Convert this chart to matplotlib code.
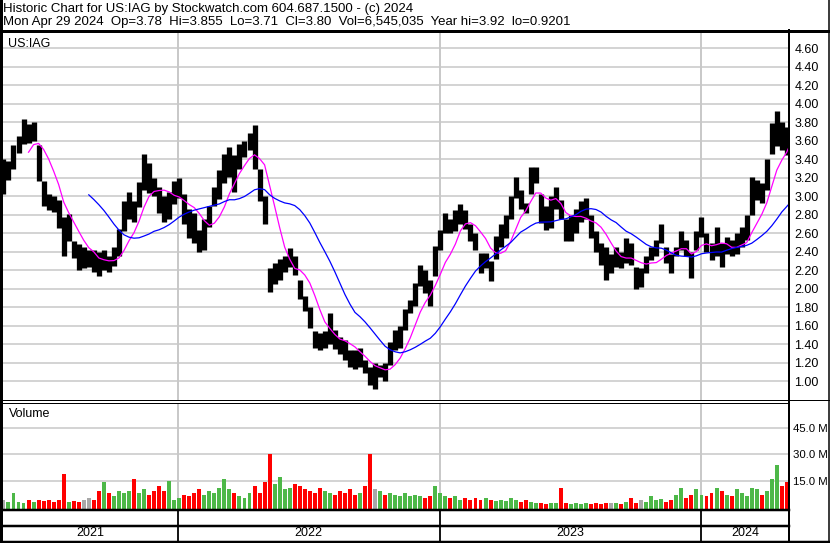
# Historic chart for US:IAG (Stockwatch style), weekly bars
import numpy as np
import pandas as pd
import matplotlib
matplotlib.use('Agg')
import matplotlib.pyplot as plt
from matplotlib.lines import Line2D

plt.rcParams['font.family'] = ['Liberation Sans', 'DejaVu Sans']

# Weekly high / low (US$), one value per week from May 2021 to Apr 2024
high = [3.40, 3.38, 3.55, 3.65, 3.84, 3.78, 3.80, 3.55, 3.17, 3.03,
        3.00, 2.96, 2.78, 2.81, 2.52, 2.48, 2.45, 2.42, 2.42, 2.40,
        2.42, 2.36, 2.45, 2.65, 2.95, 3.05, 2.95, 3.15, 3.46, 3.36,
        3.20, 3.10, 3.00, 3.05, 3.17, 3.20, 3.03, 2.86, 2.82, 2.64,
        2.75, 2.90, 3.10, 3.28, 3.46, 3.53, 3.45, 3.57, 3.60, 3.68,
        3.77, 3.30, 3.00, 2.22, 2.28, 2.32, 2.35, 2.44, 2.35, 2.10,
        1.92, 1.80, 1.54, 1.52, 1.54, 1.74, 1.55, 1.48, 1.45, 1.34,
        1.34, 1.36, 1.23, 1.15, 1.20, 1.18, 1.20, 1.42, 1.56, 1.60,
        1.78, 1.88, 2.06, 2.26, 2.20, 2.10, 2.46, 2.64, 2.82, 2.75,
        2.85, 2.92, 2.85, 2.70, 2.60, 2.39, 2.39, 2.30, 2.57, 2.70,
        2.80, 3.00, 3.21, 3.07, 2.93, 3.32, 3.32, 3.03, 2.90, 3.00,
        3.10, 2.96, 2.75, 2.80, 2.86, 2.95, 2.98, 2.80, 2.62, 2.50,
        2.45, 2.38, 2.45, 2.40, 2.55, 2.50, 2.24, 2.22, 2.35, 2.45,
        2.53, 2.70, 2.45, 2.38, 2.45, 2.63, 2.53, 2.40, 2.62, 2.78,
        2.60, 2.50, 2.67, 2.49, 2.56, 2.53, 2.60, 2.67, 2.80, 3.21,
        3.18, 3.14, 3.40, 3.79, 3.92, 3.80, 3.75, 3.855]
low = [3.02, 3.18, 3.30, 3.47, 3.57, 3.58, 3.60, 3.17, 2.90, 2.85,
       2.83, 2.66, 2.36, 2.52, 2.33, 2.20, 2.22, 2.24, 2.18, 2.14,
       2.20, 2.18, 2.25, 2.35, 2.62, 2.75, 2.72, 2.88, 3.07, 3.04,
       3.00, 2.82, 2.72, 2.75, 2.92, 2.98, 2.70, 2.55, 2.50, 2.40,
       2.42, 2.67, 2.90, 2.97, 3.14, 3.21, 3.05, 3.30, 3.42, 3.50,
       3.30, 2.95, 2.70, 1.97, 2.05, 2.10, 2.18, 2.24, 2.15, 1.89,
       1.76, 1.58, 1.36, 1.34, 1.36, 1.40, 1.35, 1.30, 1.23, 1.15,
       1.13, 1.15, 1.09, 0.96, 0.92, 1.05, 1.00, 1.18, 1.34, 1.36,
       1.56, 1.74, 1.81, 2.03, 1.95, 1.81, 2.14, 2.42, 2.60, 2.60,
       2.62, 2.70, 2.65, 2.52, 2.42, 2.17, 2.22, 2.08, 2.32, 2.45,
       2.55, 2.75, 2.98, 2.86, 2.82, 3.03, 3.14, 2.71, 2.64, 2.66,
       2.86, 2.75, 2.52, 2.52, 2.60, 2.72, 2.75, 2.55, 2.40, 2.26,
       2.09, 2.17, 2.24, 2.22, 2.28, 2.26, 2.00, 2.02, 2.17, 2.31,
       2.35, 2.49, 2.28, 2.17, 2.35, 2.42, 2.35, 2.12, 2.42, 2.56,
       2.40, 2.31, 2.35, 2.24, 2.38, 2.36, 2.38, 2.45, 2.53, 2.80,
       2.96, 2.93, 3.07, 3.46, 3.54, 3.50, 3.45, 3.71]
# Volume in millions of shares
volume = [4, 3, 8, 3, 2.5, 4, 3, 4, 3.5, 4,
          3, 4, 19, 3, 3.5, 3, 4, 5, 4, 9,
          14.5, 8, 6, 9, 8, 9, 16, 8, 10, 7,
          9, 12, 9, 15, 4, 5, 7, 6, 8, 10,
          7, 9, 8, 11, 16, 10, 8, 6, 5, 8,
          12, 8, 14, 30, 13, 17, 10, 11, 13, 12,
          10, 9, 8, 11, 9, 8, 7, 9, 8, 10,
          7, 8, 12, 30, 10, 9, 7, 8, 7, 6,
          8, 6, 7, 6, 5, 6, 12, 8, 6, 5,
          6, 4, 5, 4, 5, 4, 5, 4, 3.5, 4,
          3.5, 5, 4, 3, 4, 3, 2, 2.5, 1.8, 2.5,
          2, 11, 2, 1.5, 2, 1.5, 2, 1.5, 2.5, 1.8,
          2, 2, 2.5, 1.5, 3, 5, 2.5, 4, 3, 6,
          4, 4.5, 3, 4, 7, 10.8, 5, 7, 10, 7,
          6, 8, 11, 9, 7, 6, 10, 8, 6, 11,
          10, 7, 9, 16, 24, 12, 14, 8]

price_ticks = [1.00, 1.20, 1.40, 1.60, 1.80, 2.00, 2.20, 2.40, 2.60, 2.80,
               3.00, 3.20, 3.40, 3.60, 3.80, 4.00, 4.20, 4.40, 4.60]
vol_ticks = [15, 30, 45]
years = ['2021', '2022', '2023', '2024']

title1 = 'Historic Chart for US:IAG by Stockwatch.com 604.687.1500 - (c) 2024'
title2 = ('Mon Apr 29 2024  Op=3.78  Hi=3.855  Lo=3.71  Cl=3.80  '
          'Vol=6,545,035  Year hi=3.92  lo=0.9201')

W, H = 830, 543
GRID = '#C8C8C8'


def fx(px):
    return px / W


def fy(py):
    return 1 - py / H


def main():
    dates = pd.date_range('2021-05-03', periods=len(high), freq='W-MON')
    hi = np.array(high)
    lo = np.array(low)
    mid = pd.Series((hi + lo) / 2)
    ma_fast = mid.rolling(6).mean()
    ma_slow = mid.rolling(18).mean()
    x0, x1 = pd.Timestamp('2021-05-01'), pd.Timestamp('2024-05-02')
    year_starts = pd.to_datetime(['2022-01-01', '2023-01-01', '2024-01-01'])

    fig = plt.figure(figsize=(W / 100, H / 100), dpi=100)

    # Price panel
    ax = fig.add_axes([fx(2), fy(400), fx(789) - fx(2), fy(31) - fy(400)])
    ax.set_xlim(x0, x1)
    ax.set_ylim(0.798, 4.787)
    ax.set_yticks(price_ticks)
    ax.set_yticklabels(['%.2f' % t for t in price_ticks])
    ax.yaxis.tick_right()
    ax.tick_params(axis='y', length=0, pad=4, labelsize=9)
    ax.set_xticks([])
    ax.grid(axis='y', color=GRID, linewidth=1.1)
    for d in year_starts:
        ax.axvline(d, color=GRID, linewidth=1.4)
    ax.vlines(dates, lo, hi, color='black', linewidth=3.8, zorder=3)
    ax.plot(dates, ma_fast, color='#FF00FF', linewidth=0.9, zorder=4)
    ax.plot(dates, ma_slow, color='#0000FF', linewidth=0.9, zorder=4)
    ax.text(0.008, 0.965, 'US:IAG', transform=ax.transAxes, fontsize=9, va='center')
    for s in ax.spines.values():
        s.set_visible(False)

    # Volume panel
    av = fig.add_axes([fx(2), fy(510), fx(789) - fx(2), fy(403) - fy(510)])
    av.set_xlim(x0, x1)
    vbot = -1.73
    av.set_ylim(vbot, 59.4)
    colors = []
    for i in range(len(volume)):
        if i == 0 or abs(mid[i] - mid[i - 1]) < 0.01:
            colors.append('#A8A8A8')
        elif mid[i] > mid[i - 1]:
            colors.append('#4DB848')
        else:
            colors.append('#FF0000')
    av.bar(dates, np.array(volume) - vbot, bottom=vbot, width=5.5, color=colors, zorder=3)
    av.set_yticks(vol_ticks)
    av.set_yticklabels(['%.1f M' % v for v in vol_ticks])
    av.yaxis.tick_right()
    av.tick_params(axis='y', length=0, pad=3, labelsize=8.2)
    av.set_xticks([])
    av.grid(axis='y', color=GRID, linewidth=1.1)
    for d in year_starts:
        av.axvline(d, color=GRID, linewidth=1.4)
    av.text(0.009, 0.9, 'Volume', transform=av.transAxes, fontsize=9, va='center')
    for s in av.spines.values():
        s.set_visible(False)

    # Date strip
    ad = fig.add_axes([fx(2), fy(541), fx(789) - fx(2), fy(510) - fy(541)])
    ad.set_xlim(x0, x1)
    ad.set_ylim(0, 1)
    ad.axis('off')
    for d in year_starts:
        ad.axvline(d, color='black', linewidth=1.3)
    bounds = [x0] + list(year_starts) + [x1]
    for k, label in enumerate(years):
        centre = bounds[k] + (bounds[k + 1] - bounds[k]) / 2
        ad.text(centre, 0.25, label, ha='center', va='center', fontsize=9)

    # Frame lines, in pixel units
    fr = fig.add_axes([0, 0, 1, 1], zorder=10)
    fr.set_xlim(0, W)
    fr.set_ylim(H, 0)
    fr.axis('off')
    fr.patch.set_alpha(0)
    k = 0.72
    frame = [
        ([1, 1], [0, H], 3),
        ([828.5, 828.5], [0, H], 1.5),
        ([0, W], [30.5, 30.5], 3),
        ([789, 789], [30, H], 2),
        ([0, W], [400, 400], 1),
        ([0, 789], [402.5, 402.5], 1),
        ([0, 789], [510, 510], 2.5),
        ([0, 789], [526, 526], 2.5),
        ([0, W], [541.5, 541.5], 2.5),
    ]
    for xs, ys, lw in frame:
        fr.add_line(Line2D(xs, ys, color='black', linewidth=lw * k))

    fr.text(3, 9, title1, fontsize=9.5, va='center')
    fr.text(3, 22.5, title2, fontsize=9.5, va='center')

    fig.savefig('out.png', dpi=100)


if __name__ == "__main__": main()
